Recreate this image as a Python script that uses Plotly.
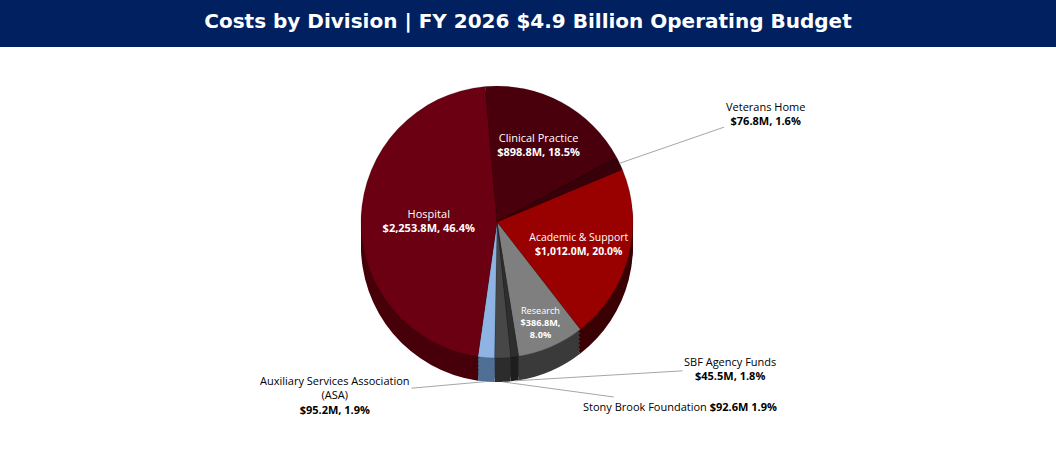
import math
import plotly.graph_objects as go

categories = ["Clinical Practice", "Veterans Home", "Academic & Support", "Research",
              "SBF Agency Funds", "Stony Brook Foundation",
              "Auxiliary Services Association<br>(ASA)", "Hospital"]
values = [898.8, 76.8, 1012.0, 386.8, 45.5, 92.6, 95.2, 2253.8]
amount_labels = ["$898.8M, 18.5%", "$76.8M, 1.6%", "$1,012.0M, 20.0%", "$386.8M,<br>8.0%",
                 "$45.5M, 1.8%", "$92.6M 1.9%", "$95.2M, 1.9%", "$2,253.8M, 46.4%"]
colors = ["#4a000c", "#380008", "#990000", "#7f7f7f", "#2e2e2e", "#474747", "#8db4e2", "#6a0011"]
side_colors = ["#2e0006", "#240004", "#3a0004", "#3a3a3a", "#1e1e1e", "#2c2c2c", "#4f6f94", "#470009"]
inside = [True, False, True, True, False, False, False, True]

W, H, TOP = 1056, 457, 47
PH = H - TOP
cx, cy, R, DEPTH = 497, 222, 136, 24
ROT = -5

texts = []
for c, a, ins in zip(categories, amount_labels, inside):
    texts.append(f"{c}<br><b>{a}</b>" if ins else "")

def px_to_paper(x, y):
    return x / W, (H - y) / PH

xd = [cx / W - 0.3, cx / W + 0.3]
def ydom(off):
    c = (H - (cy + off)) / PH
    return [c - R / PH, c + R / PH]

traces = []
for off in range(DEPTH, 0, -4):
    traces.append(go.Pie(
        labels=categories, values=values, sort=False, direction="clockwise", rotation=ROT,
        textinfo="none", marker=dict(colors=side_colors, line=dict(width=0)),
        showlegend=False, hoverinfo="skip", domain=dict(x=xd, y=ydom(off)),
    ))
traces.append(go.Pie(
    labels=categories, values=values, text=texts, texttemplate="%{text}",
    textposition=["inside" if i else "none" for i in inside],
    insidetextorientation="horizontal",
    textfont=dict(family="Open Sans", size=11, color="white"),
    marker=dict(colors=colors, line=dict(color="rgba(0,0,0,0.3)", width=0.5)),
    sort=False, direction="clockwise", rotation=ROT, showlegend=False,
    domain=dict(x=xd, y=ydom(0)), hoverinfo="label+value",
))
fig = go.Figure(traces)

# leader-line annotations for the small slices
total = sum(values)
label_pos = {1: (765, 113), 4: (730, 368), 5: (680, 406), 6: (335, 395)}
annotations = []
start = ROT
for i, v in enumerate(values):
    ang = start + 360 * v / total / 2
    start += 360 * v / total
    if i not in label_pos:
        continue
    t = math.radians(ang)
    ex = cx + R * math.sin(t)
    ey = cy - R * math.cos(t)
    if math.cos(t) < 0:
        ey += DEPTH
    hx, hy = px_to_paper(ex, ey)
    lx, ly = label_pos[i]
    annotations.append(dict(
        x=hx, y=hy, xref="paper", yref="paper", ax=lx - ex, ay=ly - ey,
        text=f"{categories[i]}" + (" " if i == 5 else "<br>") + f"<b>{amount_labels[i]}</b>",
        showarrow=True, arrowhead=0, arrowwidth=1, arrowcolor="#a6a6a6",
        font=dict(family="Open Sans", size=11, color="black"), align="center",
    ))

fig.update_layout(
    width=W, height=H,
    margin=dict(l=0, r=0, t=TOP, b=0, autoexpand=False),
    paper_bgcolor="white", plot_bgcolor="white",
    shapes=[dict(type="rect", xref="paper", yref="paper", x0=-0.5, x1=1.5, y0=1, y1=1 + 60 / PH,
                 fillcolor="#002060", line=dict(width=0), layer="below")],
    title=dict(text="<b>Costs by Division | FY 2026 $4.9 Billion Operating Budget</b>",
               x=0.5, xanchor="center", y=1 - 21 / H, yanchor="middle",
               font=dict(family="DejaVu Sans", size=20, color="white")),
    annotations=annotations,
)

fig.write_html("out.html")
